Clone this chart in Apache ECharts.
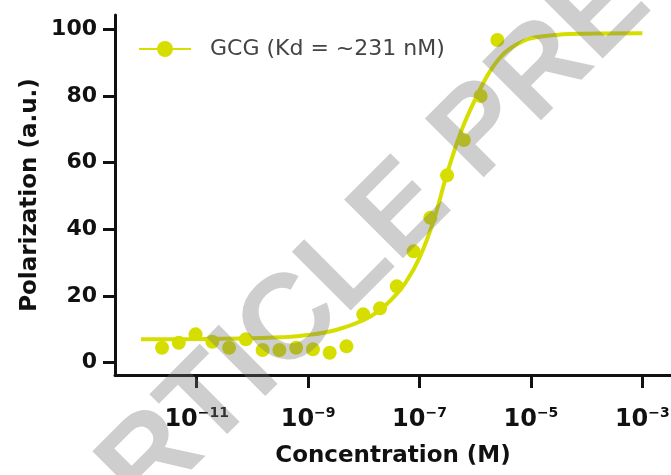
<!DOCTYPE html>
<html><head><meta charset="utf-8">
<script src="https://cdn.jsdelivr.net/npm/echarts@6/dist/echarts.min.js"></script>
<style>html,body{margin:0;padding:0;background:#fff}#c{width:671px;height:475px}</style>
</head><body><div id="c"></div>
<script>
const seriesName = 'GCG (Kd = ~231 nM)';
// measured points: concentration (M), polarization (a.u.)
const concentrationsM = [2.384e-12, 4.768e-12, 9.537e-12, 1.907e-11, 3.815e-11, 7.629e-11, 1.526e-10, 3.052e-10, 6.104e-10, 1.221e-9, 2.441e-9, 4.883e-9, 9.766e-9, 1.953e-8, 3.906e-8, 7.813e-8, 1.563e-7, 3.125e-7, 6.25e-7, 1.25e-6, 2.5e-6];
const polarization = [4.5, 6.0, 8.5, 6.3, 4.5, 7.0, 3.8, 3.8, 4.5, 4.0, 3.0, 4.9, 14.5, 16.3, 22.9, 33.4, 43.5, 56.2, 66.8, 80.0, 96.8];
// fitted curve
const fitConcM = [1e-12, 1e-11, 1e-10, 3.16e-10, 1e-9, 3.16e-9, 1e-8, 1.78e-8, 3.16e-8, 5.62e-8, 1e-7, 1.78e-7, 3.16e-7, 5.62e-7, 1e-6, 1.78e-6, 3.16e-6, 5.62e-6, 1e-5, 3.16e-5, 1e-4, 1e-3];
const fitPolarization = [7.0, 7.1, 7.3, 7.6, 8.3, 9.8, 12.8, 15.3, 19.0, 24.0, 31.5, 42.5, 57.0, 69.5, 79.0, 87.0, 92.5, 95.5, 97.3, 98.4, 98.7, 98.8];
const xTickExponents = [-11, -9, -7, -5, -3];
const yTicks = [0, 20, 40, 60, 80, 100];
const xTitle = 'Concentration (M)';
const yTitle = 'Polarization (a.u.)';
const watermarkText = 'ARTICLE PREVIEW';

const color = '#d6de00';
const F = 'DejaVu Sans';
const toPts = (xs, ys) => xs.map((c, i) => [Math.log10(c), ys[i]]);
const chart = echarts.init(document.getElementById('c'), null, {renderer: 'canvas'});
const axisColor = '#111';
const option = {
  animation: false,
  backgroundColor: '#fff',
  grid: {left: 115, right: 0, top: 15, bottom: 100, containLabel: false, outerBoundsMode: 'none'},
  legend: {
    data: [seriesName], left: 138, top: 38, padding: 0, itemWidth: 52, itemHeight: 20, selectedMode: false,
    textStyle: {fontFamily: F, fontSize: 22, color: '#444', padding: [0, 0, 0, 14]}
  },
  xAxis: {
    type: 'value', min: -12.467, max: -2.485,
    axisLine: {show: true, onZero: false, lineStyle: {color: axisColor, width: 3}},
    axisTick: {show: true, customValues: xTickExponents, length: 13, lineStyle: {color: axisColor, width: 3}},
    axisLabel: {
      customValues: xTickExponents, margin: 31,
      formatter: v => '{b|10}{s|\u2212' + Math.abs(v) + '}',
      rich: {
        b: {fontFamily: F, fontWeight: 'bold', fontSize: 24, color: axisColor, lineHeight: 28},
        s: {fontFamily: F, fontWeight: 'bold', fontSize: 14, color: axisColor, verticalAlign: 'top', lineHeight: 28, padding: [0, 0, 28, 0]}
      }
    },
    splitLine: {show: false},
    name: xTitle, nameLocation: 'middle', nameGap: 70, nameMoveOverlap: false,
    nameTextStyle: {fontFamily: F, fontWeight: 'bold', fontSize: 23, color: axisColor}
  },
  yAxis: {
    type: 'value', min: -3.69, max: 104.3,
    axisLine: {show: true, onZero: false, lineStyle: {color: axisColor, width: 3}},
    axisTick: {show: true, customValues: yTicks, length: 12, lineStyle: {color: axisColor, width: 3}},
    axisLabel: {customValues: yTicks, margin: 18, fontFamily: F, fontWeight: 'bold', fontSize: 22, color: axisColor},
    splitLine: {show: false},
    name: yTitle, nameLocation: 'middle', nameGap: 73, nameMoveOverlap: false,
    nameTextStyle: {fontFamily: F, fontWeight: 'bold', fontSize: 23, color: axisColor}
  },
  series: [
    {type: 'line', name: seriesName, data: toPts(fitConcM, fitPolarization), smooth: 0.4,
     symbol: 'circle', symbolSize: 14, showSymbol: false, color: color,
     lineStyle: {color: color, width: 4}, itemStyle: {color: color}, z: 2},
    {type: 'scatter', name: 'points', data: toPts(concentrationsM, polarization),
     symbol: 'circle', symbolSize: 14, itemStyle: {color: color, opacity: 1}, z: 3}
  ],
  graphic: [{
    type: 'text', x: 60, y: 554, rotation: Math.PI / 4, z: 100, silent: true,
    style: {text: watermarkText, font: 'bold 121px "Liberation Sans"', fill: 'rgba(110,110,110,0.34)',
            align: 'left', verticalAlign: 'middle', textAlign: 'left', textVerticalAlign: 'middle'}
  }]
};
chart.setOption(option);
</script></body></html>
